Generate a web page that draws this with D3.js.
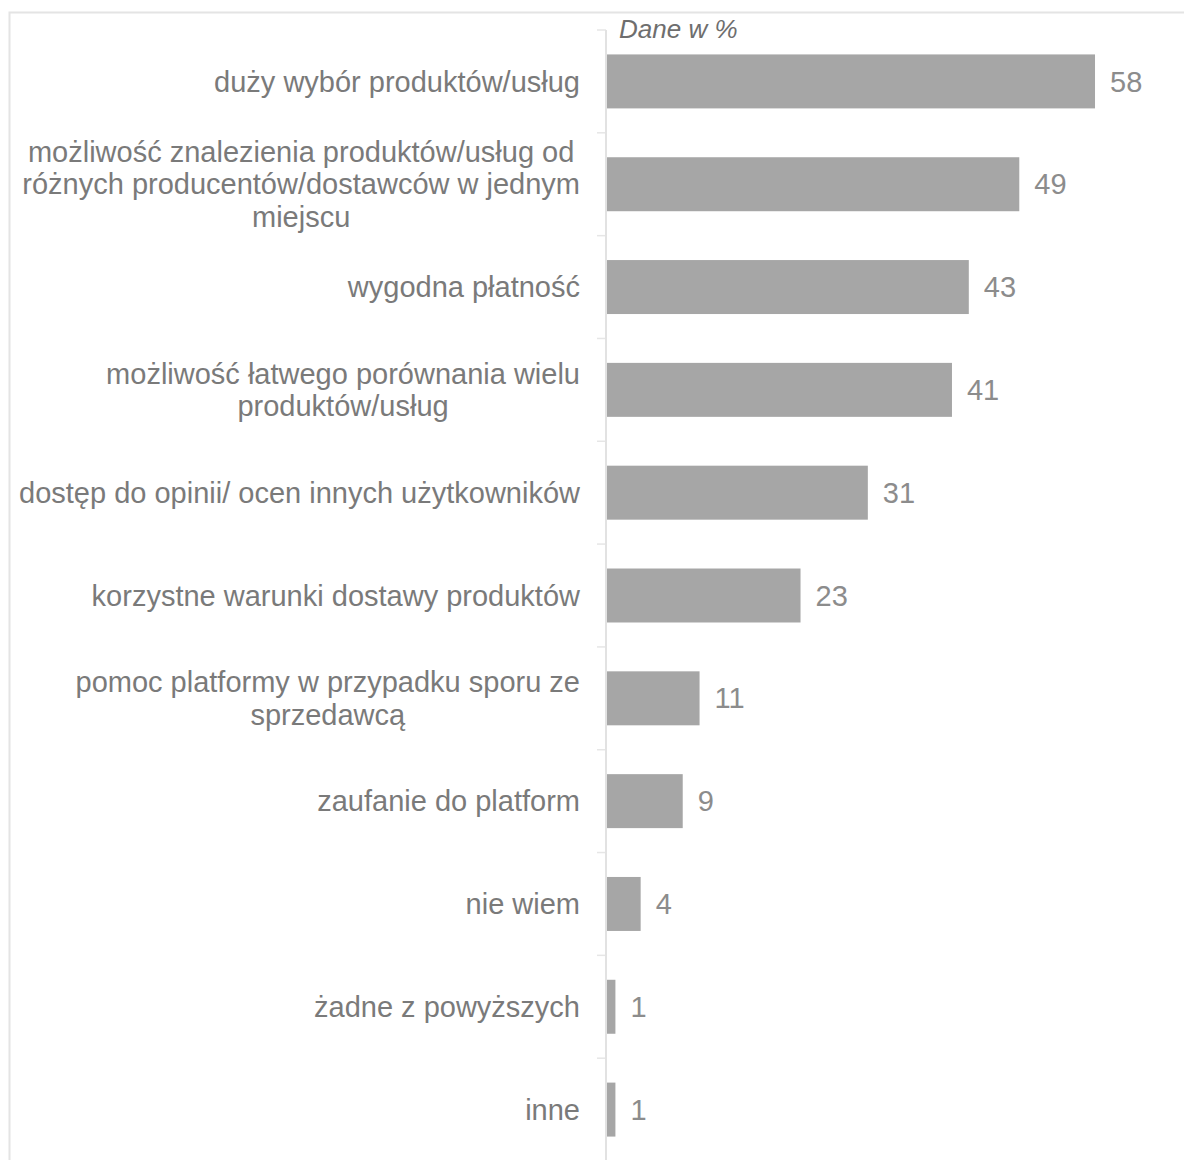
<!DOCTYPE html>
<html>
<head>
<meta charset="utf-8">
<script src="https://cdn.jsdelivr.net/npm/d3@7"></script>
<style>
html,body{margin:0;padding:0;background:#fff;}
svg{display:block;font-family:"Liberation Sans",Arial,sans-serif;}
</style>
</head>
<body>
<svg id="chart" width="1184" height="1160"></svg>
<script>
const categories = [
  ["duży wybór produktów/usług"],
  ["możliwość znalezienia produktów/usług od", "różnych producentów/dostawców w jednym", "miejscu"],
  ["wygodna płatność"],
  ["możliwość łatwego porównania wielu", "produktów/usług"],
  ["dostęp do opinii/ ocen innych użytkowników"],
  ["korzystne warunki dostawy produktów"],
  ["pomoc platformy w przypadku sporu ze", "sprzedawcą"],
  ["zaufanie do platform"],
  ["nie wiem"],
  ["żadne z powyższych"],
  ["inne"]
];
const values = [58, 49, 43, 41, 31, 23, 11, 9, 4, 1, 1];
const unitLabel = "Dane w %";

const svg = d3.select("#chart");
const ids = categories.map((c, i) => i);

// frame
svg.append("rect").attr("x", 9.5).attr("y", 12.5).attr("width", 1200).attr("height", 1200)
  .attr("fill", "none").attr("stroke", "#e4e4e4").attr("stroke-width", 2);

const x = d3.scaleLinear().domain([0, 60]).range([607, 607 + 60 * 8.414]);
const y = d3.scaleBand().domain(ids).range([30, 1161]).paddingInner(0.475).paddingOuter(0.2375);
const step = y.step();

// ticks at category boundaries
const bounds = ids.map(i => y(i) - y.paddingInner() * step / 2);
svg.append("g").selectAll("line").data(bounds).join("line")
  .attr("x1", 597).attr("x2", 606).attr("y1", d => d).attr("y2", d => d)
  .attr("stroke", "#e6e6e6").attr("stroke-width", 1.5);

// axis line
svg.append("line").attr("x1", 606).attr("x2", 606).attr("y1", 30).attr("y2", 1170)
  .attr("stroke", "#e2e2e2").attr("stroke-width", 2);

// bars
svg.append("g").selectAll("rect").data(values).join("rect")
  .attr("x", x(0)).attr("y", (d, i) => y(i))
  .attr("width", d => x(d) - x(0)).attr("height", y.bandwidth())
  .attr("fill", "#a6a6a6");

// value labels
svg.append("g").selectAll("text").data(values).join("text")
  .attr("x", d => x(d) + 15).attr("y", (d, i) => y(i) + y.bandwidth() / 2)
  .attr("dy", "0.35em").attr("font-size", 29).attr("fill", "#8c8c8c")
  .text(d => d);

// category labels
const lh = 32.5;
const lg = svg.append("g");
categories.forEach((lines, i) => {
  const cy = y(i) + y.bandwidth() / 2;
  const t = lg.append("text").attr("font-size", 29).attr("fill", "#7a7a7a")
    .attr("text-anchor", "middle");
  const spans = lines.map((ln, k) => t.append("tspan")
    .attr("y", cy + (k - (lines.length - 1) / 2) * lh)
    .attr("dy", "0.35em").text(ln));
  let maxW = 0;
  spans.forEach(s => { maxW = Math.max(maxW, s.node().getComputedTextLength()); });
  spans.forEach(s => s.attr("x", 580 - maxW / 2));
});

// unit label
svg.append("text").attr("x", 619).attr("y", 38).attr("font-size", 26)
  .attr("font-style", "italic").attr("fill", "#6e6e6e").text(unitLabel);
</script>
</body>
</html>
